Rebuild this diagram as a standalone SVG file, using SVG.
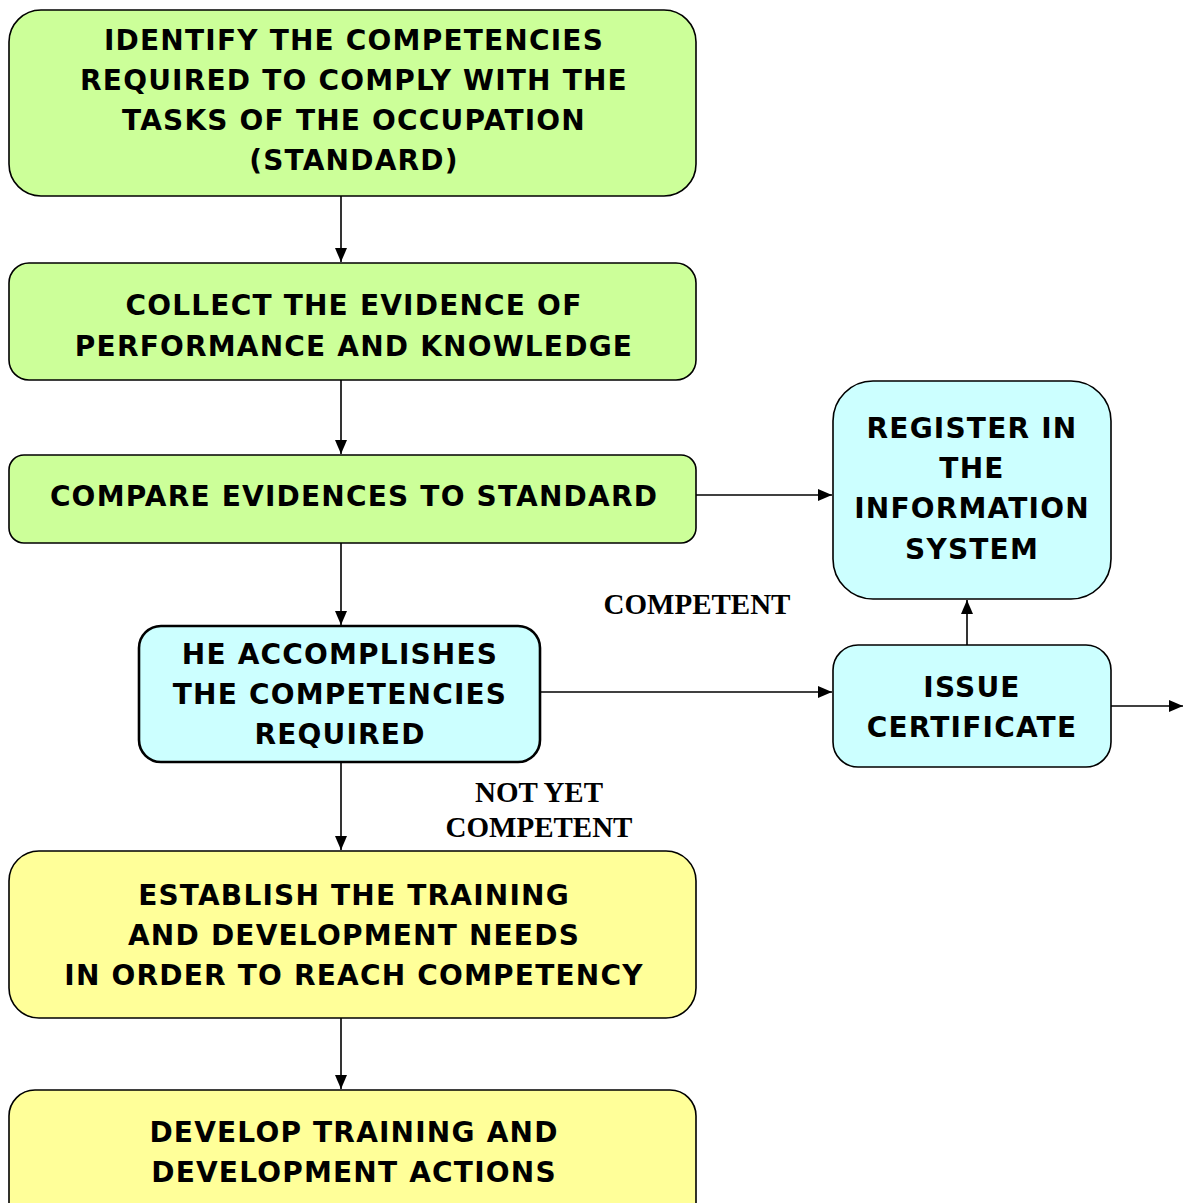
<svg xmlns="http://www.w3.org/2000/svg" width="1187" height="1203" viewBox="0 0 1187 1203">
<style>
.box{stroke:#000;stroke-width:1.6}
.g{fill:#CCFF99}.c{fill:#CCFFFF}.y{fill:#FFFF99}
.t{font-family:"DejaVu Sans",Verdana,sans-serif;font-weight:bold;font-size:28px;letter-spacing:1.2px;text-anchor:middle;fill:#000}
.l{font-family:"Liberation Serif","Times New Roman",serif;font-weight:bold;font-size:29px;text-anchor:middle;fill:#000}
.e{stroke:#000;stroke-width:1.6;fill:none;marker-end:url(#b)}
</style>
<defs>
<marker id="b" viewBox="0 0 14 12" refX="14" refY="6" markerWidth="14" markerHeight="12" markerUnits="userSpaceOnUse" orient="auto">
<path d="M0,0 L14,6 L0,12 z" fill="#000"/>
</marker>
</defs>
<rect width="1187" height="1203" fill="#fff"/>
<g id="connectors">
<line class="e" x1="341" y1="196" x2="341" y2="262"/>
<line class="e" x1="341" y1="380" x2="341" y2="454"/>
<line class="e" x1="341" y1="543" x2="341" y2="625"/>
<line class="e" x1="341" y1="762" x2="341" y2="850"/>
<line class="e" x1="341" y1="1018" x2="341" y2="1089"/>
<line class="e" x1="696" y1="495" x2="832" y2="495"/>
<line class="e" x1="540" y1="692" x2="832" y2="692"/>
<line class="e" x1="967" y1="645" x2="967" y2="600"/>
<line class="e" x1="1111" y1="706" x2="1183" y2="706"/>
</g>
<g id="n1">
<rect class="box g" x="9" y="10" width="687" height="186" rx="32"/>
<text class="t" x="354" y="50">IDENTIFY THE COMPETENCIES</text>
<text class="t" x="354" y="90">REQUIRED TO COMPLY WITH THE</text>
<text class="t" x="354" y="130">TASKS OF THE OCCUPATION</text>
<text class="t" x="354" y="170">(STANDARD)</text>
</g>
<g id="n2">
<rect class="box g" x="9" y="263" width="687" height="117" rx="20"/>
<text class="t" x="354" y="315">COLLECT THE EVIDENCE OF</text>
<text class="t" x="354" y="356">PERFORMANCE AND KNOWLEDGE</text>
</g>
<g id="n3">
<rect class="box g" x="9" y="455" width="687" height="88" rx="15"/>
<text class="t" x="354" y="506">COMPARE EVIDENCES TO STANDARD</text>
</g>
<g id="n4">
<rect class="box c" x="139" y="626" width="401" height="136" rx="22" style="stroke-width:2.6"/>
<text class="t" x="340" y="664">HE ACCOMPLISHES</text>
<text class="t" x="340" y="704">THE COMPETENCIES</text>
<text class="t" x="340" y="744">REQUIRED</text>
</g>
<g id="n5">
<rect class="box c" x="833" y="381" width="278" height="218" rx="40"/>
<text class="t" x="972" y="438">REGISTER IN</text>
<text class="t" x="972" y="478">THE</text>
<text class="t" x="972" y="518">INFORMATION</text>
<text class="t" x="972" y="559">SYSTEM</text>
</g>
<g id="n6">
<rect class="box c" x="833" y="645" width="278" height="122" rx="25"/>
<text class="t" x="972" y="697">ISSUE</text>
<text class="t" x="972" y="737">CERTIFICATE</text>
</g>
<g id="n7">
<rect class="box y" x="9" y="851" width="687" height="167" rx="30"/>
<text class="t" x="354" y="905">ESTABLISH THE TRAINING</text>
<text class="t" x="354" y="945">AND DEVELOPMENT NEEDS</text>
<text class="t" x="354" y="985">IN ORDER TO REACH COMPETENCY</text>
</g>
<g id="n8">
<rect class="box y" x="9" y="1090" width="687" height="160" rx="26"/>
<text class="t" x="354" y="1142">DEVELOP TRAINING AND</text>
<text class="t" x="354" y="1182">DEVELOPMENT ACTIONS</text>
</g>
<g id="labels">
<text class="l" x="697" y="614">COMPETENT</text>
<text class="l" x="539" y="802">NOT YET</text>
<text class="l" x="539" y="837">COMPETENT</text>
</g>
</svg>
